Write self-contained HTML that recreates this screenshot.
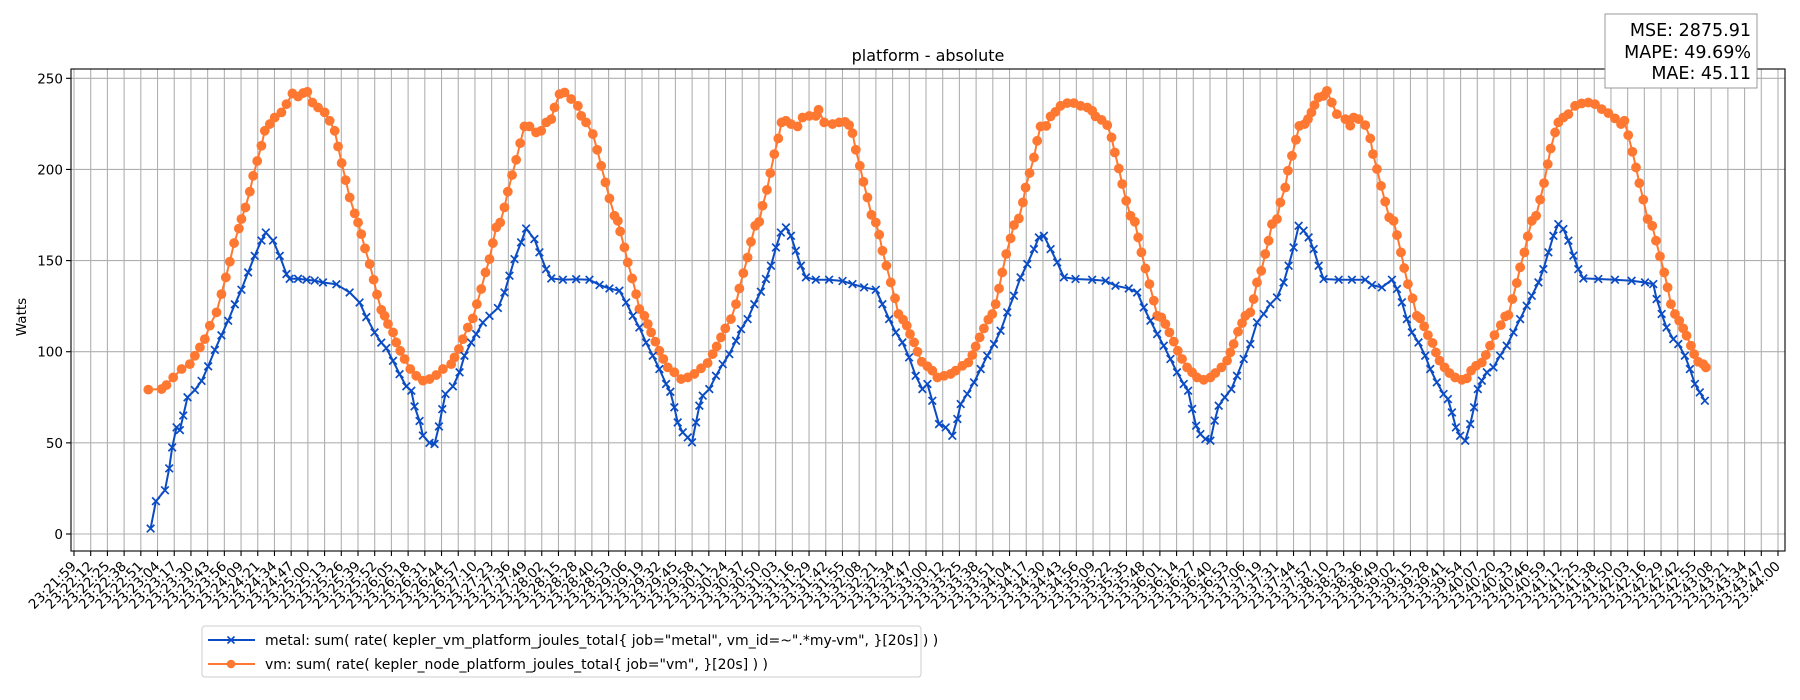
<!DOCTYPE html>
<html><head><meta charset="utf-8"><style>
html,body{margin:0;padding:0;background:#fff;}
svg{display:block;font-family:"DejaVu Sans","Liberation Sans",sans-serif;}
</style></head><body>
<svg id="chart" width="1800" height="700" viewBox="0 0 1800 700" xmlns="http://www.w3.org/2000/svg">
<rect width="1800" height="700" fill="#fff"/>
<g id="grid"></g>
<g id="series"></g>
<g id="axes"></g>
<text x="928" y="61" font-size="16" text-anchor="middle">platform - absolute</text>
<text x="0" y="0" font-size="13.5" text-anchor="middle" transform="translate(26,317) rotate(-90)">Watts</text>
<g>
<rect x="1605" y="14" width="152" height="74" fill="#fff" stroke="#999" stroke-width="1"/>
<text x="1751" y="36" font-size="17.5" text-anchor="end">MSE: 2875.91</text>
<text x="1751" y="58" font-size="17.5" text-anchor="end">MAPE: 49.69%</text>
<text x="1751" y="79" font-size="17.5" text-anchor="end">MAE: 45.11</text>
</g>
<g>
<rect x="202" y="626" width="719" height="51" rx="3" fill="#fff" stroke="#ccc" stroke-width="1"/>
<g>
<line x1="208" y1="640" x2="255" y2="640" stroke="#0b4cc4" stroke-width="2"/>
<path d="M227.5,636.5 l7,7 M227.5,643.5 l7,-7" stroke="#0b4cc4" stroke-width="1.6"/>
<text x="265" y="645" font-size="14">metal: sum( rate( kepler_vm_platform_joules_total{ job="metal", vm_id=~".*my-vm", }[20s] ) )</text>
</g>
<g>
<line x1="208" y1="664" x2="255" y2="664" stroke="#ff7831" stroke-width="2"/>
<circle cx="231" cy="664" r="4.3" fill="#ff7831"/>
<text x="265" y="669" font-size="14">vm: sum( rate( kepler_node_platform_joules_total{ job="vm", }[20s] ) )</text>
</g>
</g>
</svg>
<script>
const yTicks = [0, 50, 100, 150, 200, 250];
const tickStartSec = 23*3600 + 21*60 + 59;
const tickEndSec = 23*3600 + 44*60 + 0;
const tickCount = 103;
const metalTimes = [59.4,63.5,70.5,73.8,76.1,79.5,82.1,84.7,88,93.7,98.9,104,109.2,114.3,119.5,124.7,129.8,135,140.1,145.3,148.7,154.3,159.5,164.7,167.2,173.7,180.2,186.6,193,203.4,213.7,221.4,226.6,233,238.2,242.1,247.3,252.4,257.6,261.5,264,267.9,270.5,275.6,279.5,282.9,285.5,288,293.7,298.9,302.7,307.9,311.8,316.9,322.1,328.6,333.7,337.6,341.5,346.6,350.5,356.9,360.8,
366,370,379,389.3,399.6,407.4,415.1,422.8,428,433.2,438.3,443.5,448.7,453.8,459,462.3,465.4,468,471.9,475.8,479.1,482.2,484.8,487.4,492.5,497.7,502.9,508,513.2,517.1,522.2,527.4,532.5,536.4,540.3,544.2,548,551.9,555.8,559.6,563.5,567.4,575.1,585.4,595.8,603.5,612.5,621.6,626.7,631.9,637.1,642.2,647.4,652.5,657.7,661.6,665.4,670.6,
675.8,680.9,684.8,687.4,692.5,697.7,702.9,708,713.2,718.3,723.5,728.7,733.8,739,744.2,748,751.9,757.1,762.2,767.4,776.4,789.3,799.7,807.4,817.7,824.2,829.3,834.5,839.7,844.8,850,855.1,860.3,863.7,866.8,869.9,873.2,877.1,881,884.3,887.4,892.1,897.2,901.6,906.8,911.9,917.1,922.3,927.4,932.6,937.7,941.6,945.5,949.4,953.2,957.1,961,964.9,968.7,980.4,
990.7,1001,1006.2,1013.9,1021.7,1025.6,1029.4,1033.3,1037.2,1042.3,1047.5,1051.4,1056.5,1061.7,1065.1,1068.2,1071.3,1074.6,1078.5,1082.4,1085.4,1088.3,1091.4,1095.3,1100.4,1105.6,1110.7,1115.9,1121.1,1126.2,1130.1,1135.3,1139.1,1143,1146.9,1150.7,1154.6,1158.5,1162.4,1166.2,1170.1,1181.7,1194.6,1207.5,1217.9,1224.3,1226.9,1230.8,1234.6,1239.8,1243.7,1248.8,1252.7,1256.6,1260.4,1264.3];
const metalWatts = [3,18,24,36,47.5,58.5,57,65,75,79,84,92,101,109,117,126,134,143.5,152.6,161,165.4,161,152.6,142.6,140,140,139.5,139,138,137,132.5,127,119,110.6,105,102,95,87.7,81,78.6,70,62,54,50,49.4,59,68.5,76.8,81,88.7,97.8,105,109.7,116,119.7,124,132.5,141.7,150.8,160,167.6,161.8,154.5,
145.3,140.2,139.5,139.8,139.5,136.6,134.7,133.5,127,119.7,113.3,105,97.8,90.5,82.3,78,69.5,61.2,55.8,53,50.3,61.2,70.4,75.9,79.5,86.8,93.2,98.7,106,112.4,117.9,126.1,132.9,139.9,147.2,157.2,165.4,168.2,163.6,155.4,147.2,140.8,139.5,139.5,138.8,137.1,135.3,134,126.1,117.9,110.6,105.1,96.9,86.8,79.5,82.3,73.1,60.3,
58.5,53.9,63.1,71.3,76.8,83.2,90.5,97.8,104.2,111.5,121.6,130.7,140.8,148.1,156.3,162.7,163.6,156.3,149,140.8,139.9,139.5,138.9,136.2,134.7,132.5,124.3,117,109.7,103.3,96,88.7,82.3,78.6,68.6,59.4,54.8,52.1,51.2,62.2,70.4,75,79.5,86.8,96,104.2,116.1,120.7,126.1,129.8,138,147.2,157.2,169.1,166.4,162.7,156.3,147.2,139.9,139.5,
139.5,139.5,136.6,135.3,139.5,134.4,127.1,117.9,110.6,105.1,97.8,90.5,83.2,76.8,74,66.7,58.5,53.9,51.2,60.3,69.5,79.5,84.1,88.7,91.4,97.8,103.3,110.6,117.9,125.2,130.7,138,145.3,154.5,163.6,170,167.3,160.9,152.7,145.3,140.2,139.9,139.5,138.9,138,137.1,128.9,120.7,113.3,106.9,104.2,97.8,90.5,82.3,77.7,73.1];
const vmTimes = [57.6,67.9,71.7,76.9,83.4,89.8,93.7,97.6,101.4,105.3,110.5,114.3,117.7,120.8,124.1,127.8,129.8,132.9,136.3,138.9,142,145.3,147.9,151.8,155.6,160.8,164.7,169.3,173.7,177.6,180.9,184.8,189.2,194.3,198.2,202.1,204.7,207.5,210.6,213.7,217.6,220.2,222.7,225.6,229.2,232.3,234.9,238.2,240.8,243.4,247.3,249.8,252.9,256.3,260.7,265.3,270.5,275.6,280.8,286,292.4,295,298.4,301.5,305.3,309.2,312.3,315.7,319,322.1,324.7,327.3,330.4,333.7,336.3,339.6,342.8,345.9,349.2,353.1,358.2,
362.2,366.1,370,372.5,376.4,380.3,385.4,390.6,393.2,397,402.2,405.6,408.7,412,415.1,419,421.6,423.4,426.7,429.3,432.7,435.8,438.3,442.2,444.8,447.4,450.7,453.8,456.9,460.3,465.4,470.6,475.8,480.9,486.1,491.2,495.1,498.2,501.6,504.9,509.3,513.2,515.8,518.9,522.2,524.8,528.1,531.2,533.8,537.2,539.8,542.9,546,548.5,551.9,555.8,560.9,564.8,570,575.1,577.2,581.6,588,593.2,597.8,600.9,603.5,606.1,609.2,612,615.1,618.2,621.6,624.2,626.7,629.8,633.2,636.5,639.1,642.7,645.6,648.1,651.3,653.9,657.2,661.6,665.4,669.3,
674.5,679.6,683.5,688.7,693.3,696.4,699,702.1,705.4,708.8,711.9,714.5,717.1,719.6,722.7,726.1,728.7,732.5,735.6,737.7,740.8,744.2,746.7,749.3,753.7,757.1,760.9,764.8,770,775.1,780.3,785.5,789.3,791.9,796.6,801,804.3,806.9,810,812.6,815.7,819,822.4,825,827.5,830.6,833.7,837.1,839.7,843,846.1,849.2,852.6,855.7,859,862.9,866.8,870.6,875.8,881,884.8,889.5,893.9,896.4,899,902.4,905.5,908.1,911.9,914.5,917.1,920.4,923.5,926.1,928.7,932.6,935.2,939,941.1,944.2,947.3,949.9,954,956.6,959.3,961.7,964.8,968.7,971.3,975.1,979,
985.6,989.4,992,995.9,1001,1004.9,1007,1010.1,1013.2,1016.5,1019.6,1023,1025.6,1028.7,1031.2,1034.1,1037.7,1041,1043.6,1046.7,1049.6,1053.2,1055.8,1058.6,1062.5,1066.3,1070.7,1075.9,1079.8,1083.1,1087,1091.4,1094.5,1097.8,1101.2,1106.1,1109.5,1112,1115.1,1118.5,1121.1,1124.4,1127,1130.1,1133.5,1136.6,1139.6,1142.5,1144.8,1148.2,1150.7,1154.6,1158.5,1163.7,1168.8,1174,1179.1,1184.3,1189.5,1194.6,1199.3,1201.9,1204.9,1208.1,1210.9,1213.5,1216.6,1219.9,1223.5,1226.4,1229.5,1232.8,1235.4,1238,1241.1,1244.4,1247.5,1250.1,1253.5,1256,1259.1,1263,1265.1];
const vmWatts = [79.2,79.5,81.7,85.9,90.5,93.2,97.8,102.4,106.9,114.3,121.6,131.6,140.8,149.4,159.6,167.6,172.8,179.2,187.8,196.5,204.6,213,221.2,224.9,228.5,231.3,235.8,241.7,240,241.9,242.6,236.7,234,231.3,226.7,221.2,212.6,203.5,194.1,184.6,175.9,170.9,164.5,156.7,148.1,139.5,131.4,123,119.7,115.2,110.6,105.1,100.5,96,90.5,86.8,84.1,85,87.2,90.5,93.2,96.9,101.5,106.9,113.3,118.3,126.1,134.4,143.5,150.8,159.6,168.2,170.9,179.2,187.8,196.9,205.3,214.4,223.6,223.6,220.3,
221.2,225.8,227.6,234,241.3,242.2,238.6,234.9,229.4,225.8,219.4,210.8,202,192.9,184.1,174.6,171.8,166,157.2,149,140.2,131.6,123.4,119.7,115.2,110.6,105.5,100.5,96,91.4,88.7,85,85.9,87.8,90.9,93.8,98.7,102.9,107.9,112.8,117.9,126.1,134.7,143.1,151.7,160.3,169.1,171.3,180.1,188.8,198,208.4,217,225.8,226.7,224.9,223.6,228.5,229.4,229.4,232.7,225.8,224.9,225.8,226.1,224.3,219.9,210.8,202,193.2,184.6,175.1,170.9,164.2,155.4,147.2,138,129.3,120.7,117.6,114.3,109.7,105.1,100,94.5,92,89.6,85.9,
86.8,87.8,89.6,92.3,94.1,98.2,102.9,107.9,112.8,117.6,120.7,126.1,134.7,143.5,153.6,162.2,169.5,173.1,181.9,190.1,198,206.6,215.7,223.6,223.9,229.1,231.6,234.9,236.4,236.4,234.9,234,232.2,229.1,227.2,224.3,217.6,209.3,200.5,192,182.8,174.6,171.3,162.7,154.5,145.7,137.1,128,119.7,118.8,115.2,110.6,105.5,100.5,96,91.4,88.7,85.9,84.6,85.9,88.3,91.4,95.1,99.6,104.2,111,115.7,119.7,121.6,128.9,138,144.4,153.6,160.9,170,172.8,181.9,190.1,199.3,207.5,216.3,223.9,224.9,227.6,231.3,235.3,239.5,240.4,243.1,236.7,230.3,
227.6,224,228.5,227.6,224.3,217,208.4,200.2,191,182.3,173.7,171.8,164,154.5,145.9,137.1,129.3,119.7,118.3,113.9,109.1,104.8,99.6,95.1,91.4,88.3,85.9,84.6,85.4,89.6,92.3,94.1,98.2,103.3,109.1,114.6,119.4,120.1,128.9,137.7,146.3,154.5,163.3,171.8,174.6,183.4,192.5,202.9,211.5,220.3,225.8,228.5,230.3,234.9,236.2,236.7,235.8,233.1,230.9,228,224.9,226.7,218.8,209.7,201.1,192.5,183.4,172.8,169.1,160.9,152.3,143.5,135.3,126.1,120.7,117,112.8,108.8,103.3,98.7,94.5,93.2,91.4];

const NS = 'http://www.w3.org/2000/svg';
const plotL = 71, plotR = 1785, plotT = 69, plotB = 551;
const xFirst = 74, xLast = 1778;
const tickSpan = tickEndSec - tickStartSec;
function xScale(t){ return xFirst + t * (xLast - xFirst) / tickSpan; }
function yScale(v){ return 534 - v * (534 - 78.3) / 250; }
function mk(tag, attrs, parent){ const e = document.createElementNS(NS, tag); for (const k in attrs) e.setAttribute(k, attrs[k]); parent.appendChild(e); return e; }
function fmt(s){ s = Math.round(s); const h = Math.floor(s/3600), m = Math.floor(s%3600/60), sec = s%60; return String(h).padStart(2,'0')+':'+String(m).padStart(2,'0')+':'+String(sec).padStart(2,'0'); }

const grid = document.getElementById('grid');
const axes = document.getElementById('axes');
const series = document.getElementById('series');

for (let i = 0; i < tickCount; i++) {
  const t = i * tickSpan / (tickCount - 1);
  const x = xScale(t);
  const gl = mk('line', {x1:x, y1:plotT, x2:x, y2:plotB, stroke:'#b0b0b0', 'stroke-width':1.1}, grid);
  
  
  const tk = mk('line', {x1:x, y1:plotB, x2:x, y2:plotB+5, stroke:'#000', 'stroke-width':1.1}, axes);
  
  
  const lb = mk('text', {x:x+3, y:plotB+16, 'font-size':13.5, 'text-anchor':'end', transform:'rotate(-45 '+(x+3)+' '+(plotB+16)+')'}, axes);
  lb.textContent = fmt(tickStartSec + t);
  
  
}
yTicks.forEach(v => {
  const y = yScale(v);
  const gl = mk('line', {x1:plotL, y1:y, x2:plotR, y2:y, stroke:'#b0b0b0', 'stroke-width':1.1}, grid);
  
  
  const tk = mk('line', {x1:plotL-5, y1:y, x2:plotL, y2:y, stroke:'#000', 'stroke-width':1.1}, axes);
  
  
  const lb = mk('text', {x:plotL-8, y:y+5, 'font-size':13.5, 'text-anchor':'end'}, axes);
  lb.textContent = v;
  
  
});
const frame = mk('rect', {x:plotL, y:plotT, width:plotR-plotL, height:plotB-plotT, fill:'none', stroke:'#000', 'stroke-width':1.1}, axes);



function drawSeries(times, vals, color, marker, name){
  const g = mk('g', {}, series);
  
  
  const pts = times.map((t,i) => xScale(t).toFixed(1)+','+yScale(vals[i]).toFixed(1)).join(' ');
  const pl = mk('polyline', {points:pts, fill:'none', stroke:color, 'stroke-width':2, 'stroke-linejoin':'round'}, g);
  
  
  times.forEach((t,i) => {
    const x = xScale(t), y = yScale(vals[i]);
    let m;
    if (marker === 'x') {
      m = mk('path', {d:'M'+(x-3.8)+','+(y-3.8)+' l7.6,7.6 M'+(x-3.8)+','+(y+3.8)+' l7.6,-7.6', stroke:color, 'stroke-width':1.7}, g);
    } else {
      m = mk('circle', {cx:x, cy:y, r:4.9, fill:color}, g);
    }
    
    
  });
}
drawSeries(vmTimes, vmWatts, '#ff7831', 'o', 'vm-series');
drawSeries(metalTimes, metalWatts, '#0b4cc4', 'x', 'metal-series');
</script>
</body></html>
